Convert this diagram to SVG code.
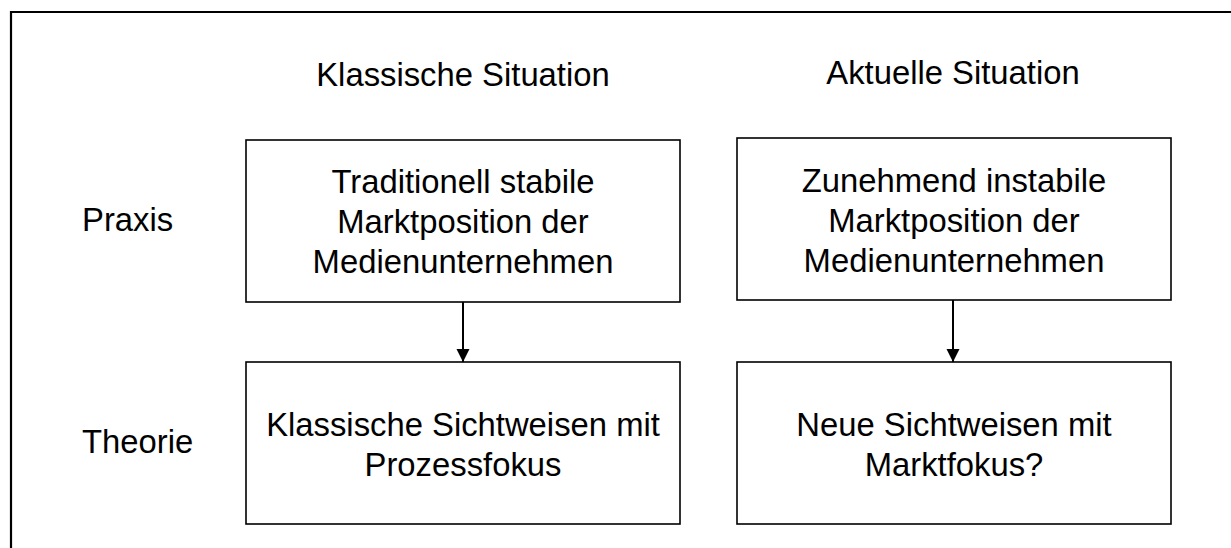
<svg xmlns="http://www.w3.org/2000/svg" width="1231" height="548" viewBox="0 0 1231 548">
<style>
text{font-family:"Liberation Sans",Arial,sans-serif;font-size:32.8px;fill:#000}
.c{text-anchor:middle}
.box{fill:#fff;stroke:#000;stroke-width:1.6}
.conn{stroke:#000;stroke-width:2;fill:none}
</style>
<defs>
<marker id="ah" markerUnits="userSpaceOnUse" markerWidth="14" markerHeight="14" refX="13" refY="7" orient="auto">
<path d="M0,0.5 L13,7 L0,13.5 Z" fill="#000"/>
</marker>
</defs>
<rect width="1231" height="548" fill="#fff"/>
<path d="M11,548 L11,12 L1231,12" fill="none" stroke="#000" stroke-width="2.2"/>
<g id="header-klassisch"><text class="c" x="463" y="86">Klassische Situation</text></g>
<g id="header-aktuell"><text class="c" x="953" y="84">Aktuelle Situation</text></g>
<g id="label-praxis"><text x="82" y="231">Praxis</text></g>
<g id="label-theorie"><text x="82" y="453">Theorie</text></g>
<g id="node-traditionell">
<rect class="box" x="246" y="140" width="434" height="162"/>
<text class="c" x="463" y="193">Traditionell stabile</text>
<text class="c" x="463" y="233">Marktposition der</text>
<text class="c" x="463" y="273">Medienunternehmen</text>
</g>
<g id="node-zunehmend">
<rect class="box" x="737" y="138" width="434" height="162"/>
<text class="c" x="954" y="192">Zunehmend instabile</text>
<text class="c" x="954" y="232">Marktposition der</text>
<text class="c" x="954" y="272">Medienunternehmen</text>
</g>
<g id="node-klassische-sichtweisen">
<rect class="box" x="246" y="362" width="434" height="162"/>
<text class="c" x="463" y="436">Klassische Sichtweisen mit</text>
<text class="c" x="463" y="476">Prozessfokus</text>
</g>
<g id="node-neue-sichtweisen">
<rect class="box" x="737" y="362" width="434" height="162"/>
<text class="c" x="954" y="436">Neue Sichtweisen mit</text>
<text class="c" x="954" y="476">Marktfokus?</text>
</g>
<g id="connectors">
<line class="conn" x1="463" y1="302" x2="463" y2="362" marker-end="url(#ah)"/>
<line class="conn" x1="953" y1="300" x2="953" y2="362" marker-end="url(#ah)"/>
</g>
</svg>
